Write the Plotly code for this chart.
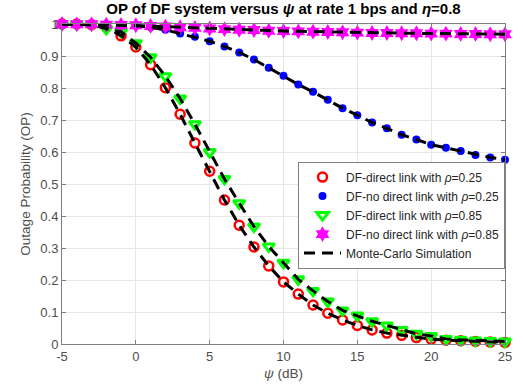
import plotly.graph_objects as go

psi_db = list(range(-5, 26))

op_direct_025 = [1.0, 1.0, 0.998, 0.99, 0.963, 0.928, 0.873, 0.801, 0.718, 0.628, 0.540,
                 0.450, 0.371, 0.303, 0.244, 0.194, 0.156, 0.122, 0.096, 0.075, 0.058,
                 0.044, 0.034, 0.027, 0.020, 0.015, 0.012, 0.010, 0.008, 0.006, 0.005]
op_nodirect_025 = [1.0, 1.0, 1.0, 0.999, 0.998, 0.995, 0.99, 0.982, 0.97, 0.96, 0.946,
                   0.93, 0.911, 0.889, 0.863, 0.838, 0.811, 0.788, 0.763, 0.737, 0.715,
                   0.692, 0.674, 0.654, 0.639, 0.623, 0.613, 0.603, 0.591, 0.583, 0.576]
op_direct_085 = [1.0, 1.0, 0.998, 0.985, 0.975, 0.94, 0.896, 0.837, 0.767, 0.687, 0.600,
                 0.516, 0.440, 0.367, 0.305, 0.254, 0.202, 0.166, 0.133, 0.105, 0.089,
                 0.071, 0.058, 0.044, 0.032, 0.025, 0.016, 0.013, 0.011, 0.009, 0.008]
op_nodirect_085 = [1.0, 0.999, 0.999, 0.998, 0.997, 0.996, 0.994, 0.992, 0.99, 0.988, 0.986,
                   0.984, 0.982, 0.981, 0.979, 0.978, 0.977, 0.976, 0.975, 0.974, 0.973,
                   0.972, 0.972, 0.971, 0.971, 0.970, 0.970, 0.969, 0.969, 0.968, 0.968]

x_ticks = [-5, 0, 5, 10, 15, 20, 25]

series = [
    ("DF-direct link with <i>ρ</i>=0.25", op_direct_025,
     dict(symbol="circle-open", size=9, color="#ff0000", line=dict(width=2.5, color="#ff0000"))),
    ("DF-no direct link with <i>ρ</i>=0.25", op_nodirect_025,
     dict(symbol="circle", size=8, color="#0000ff", line=dict(width=0))),
    ("DF-direct link with <i>ρ</i>=0.85", op_direct_085,
     dict(symbol="triangle-down-open", size=10, color="#00ff00", line=dict(width=3, color="#00ff00"))),
    ("DF-no direct link with <i>ρ</i>=0.85", op_nodirect_085,
     dict(symbol="hexagram", size=12, color="#ff00ff", line=dict(width=0))),
]

fig = go.Figure()
for name, ys, mk in series:
    fig.add_trace(go.Scatter(x=psi_db, y=ys, mode="markers", name=name, marker=mk,
                             cliponaxis=False))

for i, (name, ys, mk) in enumerate(series):
    fig.add_trace(go.Scatter(x=psi_db, y=ys, mode="lines", name="Monte-Carlo Simulation",
                             line=dict(color="black", width=3, dash="11px,7px"),
                             legendgroup="mc", showlegend=(i == 0), cliponaxis=False))

FONT = "Liberation Sans, Arial"
axis_common = dict(
    showgrid=True, gridcolor="#e6e6e6", gridwidth=1,
    showline=True, linecolor="#808080", linewidth=1, mirror="ticks",
    ticks="inside", ticklen=4, tickcolor="#808080",
    tickfont=dict(family=FONT, size=13, color="#4d4d4d"),
    zeroline=False,
)

fig.update_layout(
    width=523, height=389,
    margin=dict(l=62, r=11, t=24, b=42),
    paper_bgcolor="white", plot_bgcolor="white",
    font=dict(family=FONT, size=12, color="#404040"),
    title=dict(text="<b>OP of DF system versus <i>ψ</i> at rate 1 bps and <i>η</i>=0.8</b>",
               x=0.5, xref="paper", xanchor="center", y=1, yref="container", yanchor="top",
               pad=dict(t=3), font=dict(size=15, color="black", family=FONT)),
    xaxis=dict(range=[-5, 25], tickvals=x_ticks, ticktext=[str(v) for v in x_ticks],
               title=dict(text="<i>ψ</i> (dB)", standoff=5, font=dict(size=13.5, color="#4d4d4d")),
               **axis_common),
    yaxis=dict(range=[0, 1], dtick=0.1, tick0=0,
               title=dict(text="Outage Probability (OP)", standoff=6, font=dict(size=13.5, color="#4d4d4d")),
               **axis_common),
    legend=dict(x=1, xanchor="right", y=0.57, yanchor="top",
                bgcolor="white", bordercolor="#808080", borderwidth=1,
                font=dict(size=12, color="#262626"), tracegroupgap=0,
                itemwidth=37),
    showlegend=True,
)

fig.write_html("out.html", config={"displayModeBar": False},
               post_script="document.body.style.margin='0px';")
